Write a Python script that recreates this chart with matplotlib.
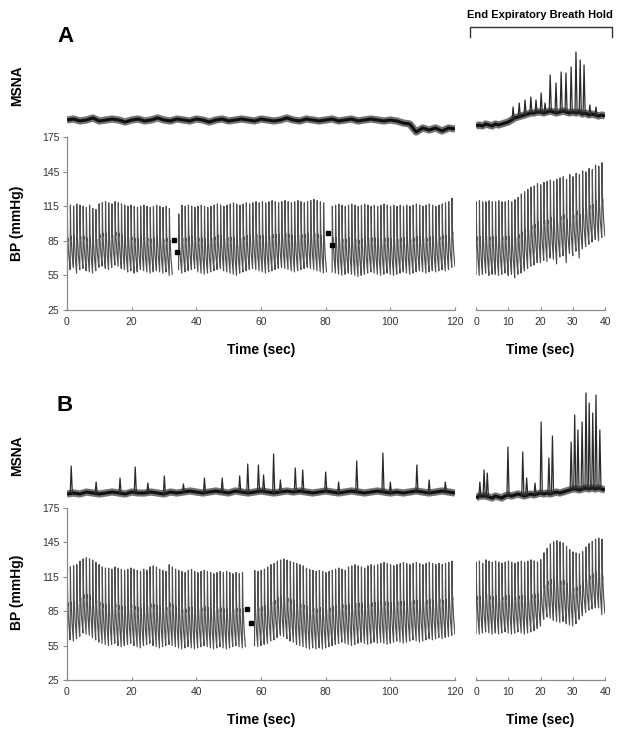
import numpy as np
import matplotlib
matplotlib.use("Agg")
import matplotlib.pyplot as plt

plt.rcParams['font.family'] = ['Liberation Sans', 'DejaVu Sans']

W, H = 629, 741

# ---------------- data ----------------
# BP segments: (start sec, end sec), per-beat systolic / diastolic (mmHg)
a_left_segs = [(0.0, 32.6), (34.5, 80.3), (82.0, 120.0)]
a_left_sys = [
    [117, 118, 117, 119, 118, 117, 116, 118, 115, 114, 119, 120, 121, 120, 119, 121, 120,
     119, 118, 117, 118, 117, 116, 117, 118, 117, 116, 117, 118, 117, 116, 117, 115],
    [110, 118, 117, 118, 117, 116, 117, 118, 117, 116, 117, 118, 119, 118, 117, 118, 119,
     120, 119, 118, 119, 120, 119, 120, 121, 120, 121, 120, 121, 122, 121, 120, 121, 122,
     121, 120, 121, 122, 121, 120, 121, 122, 123, 122, 121, 120],
    [117, 118, 119, 118, 117, 118, 119, 118, 117, 118, 119, 118, 117, 118, 117, 118, 119,
     118, 117, 118, 117, 118, 117, 118, 117, 118, 119, 118, 117, 118, 119, 118, 117, 118,
     119, 120, 121, 124],
]
a_left_dia = [
    [58, 60, 62, 57, 60, 61, 59, 58, 57, 59, 62, 63, 61, 60, 62, 64, 63, 61, 60, 58, 59,
     57, 58, 60, 59, 58, 57, 58, 59, 58, 57, 58, 55],
    [60, 57, 58, 59, 60, 61, 58, 57, 56, 57, 58, 59, 60, 61, 59, 58, 57, 56, 55, 57, 58,
     59, 60, 61, 60, 59, 58, 57, 58, 59, 60, 61, 62, 61, 60, 59, 58, 59, 60, 61, 62, 61,
     60, 59, 58, 57],
    [58, 57, 56, 55, 56, 57, 56, 55, 54, 55, 56, 57, 58, 57, 56, 55, 56, 57, 56, 55, 56,
     57, 58, 57, 56, 57, 58, 59, 58, 57, 58, 59, 58, 59, 60, 59, 60, 62],
]
a_cal = ([33.0, 34.0, 80.8, 81.9], [86, 75, 92, 81])

a_right_segs = [(0.0, 40.0)]
a_right_sys = [[121, 122, 121, 121, 122, 121, 121, 122, 121, 121, 122, 121,
                123, 125, 128, 130, 132, 134, 135, 137,
                136, 138, 139, 140, 139, 141, 142, 143, 141, 145,
                143, 146, 145, 148, 147, 150, 149, 153, 152, 155]]
a_right_dia = [[56, 55, 56, 57, 55, 56, 56, 55, 56, 57, 55, 56,
                53, 56, 57, 59, 61, 63, 64, 66,
                66, 68, 67, 70, 69, 65, 71, 72, 66, 74,
                72, 76, 70, 78, 80, 82, 84, 86, 85, 88]]

b_left_segs = [(0.0, 55.2), (58.0, 120.0)]
b_left_sys = [
    [127, 126, 127, 128, 131, 133, 134, 133, 132, 130, 128, 126, 125, 125, 124, 126, 125,
     124, 123, 124, 125, 124, 123, 122, 124, 123, 126, 127, 126, 124, 123, 122, 128, 126,
     124, 123, 122, 121, 123, 124, 122, 121, 122, 123, 122, 121, 120, 121, 122, 121, 122,
     121, 120, 121, 120, 121],
    [123, 122, 123, 124, 126, 128, 129, 131, 132, 133, 132, 131, 130, 129, 128, 127, 125,
     124, 123, 122, 123, 122, 121, 122, 123, 124, 125, 124, 123, 126, 127, 128, 127, 126,
     125, 127, 128, 127, 128, 129, 130, 129, 128, 127, 128, 129, 130, 129, 128, 129, 130,
     129, 128, 129, 130, 129, 128, 129, 128, 129, 130, 131],
]
b_left_dia = [
    [58, 60, 59, 61, 63, 66, 65, 64, 62, 60, 58, 57, 56, 55, 56, 57, 55, 54, 55, 56, 57,
     55, 54, 53, 55, 56, 57, 55, 54, 53, 54, 55, 56, 55, 54, 53, 52, 53, 54, 53, 52, 53,
     54, 55, 54, 53, 52, 53, 54, 53, 52, 53, 54, 55, 54, 53],
    [55, 54, 55, 56, 57, 59, 60, 62, 64, 63, 61, 59, 58, 56, 55, 54, 53, 52, 53, 52, 53,
     52, 53, 54, 55, 56, 57, 58, 57, 56, 55, 56, 57, 58, 57, 56, 57, 58, 57, 58, 57, 56,
     57, 58, 59, 58, 57, 58, 59, 60, 59, 58, 59, 60, 61, 60, 61, 62, 61, 62, 63, 64],
]
b_cal = ([55.7, 57.0], [87, 75])

b_right_segs = [(0.0, 40.0)]
b_right_sys = [[130, 131, 129, 132, 131, 130, 131, 130, 129, 130, 131, 130, 129, 130,
                131, 130, 131, 132, 131, 130, 132,
                138, 142, 146, 148, 149, 148, 147,
                144, 141, 139, 138, 137, 139,
                143, 146, 148, 150, 151, 150]]
b_right_dia = [[66, 65, 66, 67, 66, 65, 66, 65, 66, 67, 66, 65, 66, 67, 66, 65, 66, 67,
                68, 70, 72,
                78, 80, 79, 77, 76, 75, 76,
                74, 73, 72, 74, 78, 81,
                84, 86, 87, 88, 88, 82]]

# MSNA baselines (arbitrary units), left every 2 s, right every 1 s
a_msna_left = [20, 21, 19, 20, 22, 19, 20, 21, 20, 18, 20, 21, 19, 20, 22, 20, 19, 21, 20,
               19, 21, 20, 18, 20, 21, 19, 20, 21, 20, 19, 21, 20, 19, 20, 22, 20, 19, 21,
               20, 19, 20, 21, 19, 20, 21, 19, 20, 21, 20, 19, 20, 19, 17, 16, 8, 12, 10,
               12, 9, 12, 11]
a_msna_right = [14, 15, 14, 16, 15, 14, 16, 15, 16, 17,
                18, 20, 22, 23, 24, 25, 26, 27, 27, 28,
                28, 27, 28, 29, 28, 27, 28, 29, 28, 27,
                28, 27, 28, 26, 27, 25, 26, 25, 24, 25, 24]
a_burst_left_t, a_burst_left_v = [], []
a_burst_right_t = [11.5, 13.4, 15.2, 17.0, 18.6, 20.2, 21.4, 23.0, 24.8, 26.4, 27.9,
                   29.5, 31.0, 32.3, 33.5, 35.3, 37.2]
a_burst_right_v = [33, 37, 40, 43, 40, 47, 37, 65, 57, 68, 67, 73, 88, 80, 75, 35, 33]

b_msna_left = [16, 17, 16, 18, 17, 16, 17, 18, 17, 16, 18, 17, 17, 18, 17, 16, 18, 17, 18,
               19, 18, 17, 18, 19, 18, 17, 19, 18, 17, 18, 19, 18, 17, 18, 19, 18, 19, 18,
               17, 18, 19, 18, 17, 18, 19, 18, 17, 18, 19, 18, 17, 18, 17, 18, 19, 18, 17,
               18, 19, 18, 17]
b_msna_right = [12, 14, 14, 14, 13, 12, 14, 13, 12, 14,
                15, 14, 15, 16, 15, 14, 15, 16, 15, 16, 17,
                16, 17, 16, 17, 18, 17, 18, 19, 20, 21,
                21, 20, 21, 22, 21, 22, 21, 22, 21, 20]
b_burst_left_t = [1.3, 9.0, 16.4, 21.1, 25.0, 30.1, 36.0, 42.5, 48.0, 53.4, 55.9, 59.2,
                  60.8, 63.9, 66.0, 70.6, 72.9, 80.0, 84.0, 89.6, 97.7, 100.0, 108.2,
                  112.0, 117.0]
b_burst_left_v = [44, 28, 32, 43, 27, 34, 26, 32, 32, 34, 46, 45, 35, 56, 30, 42, 40,
                  38, 28, 49, 57, 28, 45, 30, 28]
b_burst_right_t = [1.2, 2.5, 3.5, 9.9, 14.5, 15.7, 18.3, 20.2, 22.6, 23.7, 29.5, 30.6,
                   31.6, 32.9, 34.1, 35.1, 36.2, 37.2, 38.4]
b_burst_right_v = [28, 40, 37, 63, 58, 32, 27, 88, 52, 74, 68, 95, 80, 88, 117, 107, 97,
                   115, 80]

bp_ticks = [25, 55, 85, 115, 145, 175]


# ---------------- helpers ----------------
def px_axes(fig, x0, y0, x1, y1):
    return fig.add_axes([x0 / W, 1 - y1 / H, (x1 - x0) / W, (y1 - y0) / H])


def fig_text(fig, x, y, s, **kw):
    fig.text(x / W, 1 - y / H, s, **kw)


def bp_wave(t0, t1, sys, dia, notch=0.42, n=30):
    """beat-by-beat pressure trace built from systolic / diastolic values"""
    step = (t1 - t0) / len(sys)
    p = np.linspace(0, 1, n, endpoint=False)
    tt, yy = [], []
    for k, (s, d) in enumerate(zip(sys, dia)):
        d_next = dia[k + 1] if k + 1 < len(dia) else d
        nv = d + notch * (s - d)
        y = np.where(
            p < 0.08, d + (s - d) * np.sin(np.pi / 2 * p / 0.08),
            np.where(
                p < 0.22, s - (s - nv) * ((p - 0.08) / 0.14) ** 0.8,
                np.where(
                    p < 0.32, nv + 0.08 * (s - d) * np.sin(np.pi * (p - 0.22) / 0.1),
                    nv + (d_next - nv) * ((p - 0.32) / 0.68) ** 0.8)))
        tt.append(t0 + (k + p) * step)
        yy.append(y)
    return np.concatenate(tt), np.concatenate(yy)


def draw_bp(ax, segs, sys_list, dia_list, cal=None):
    for (t0, t1), s, d in zip(segs, sys_list, dia_list):
        t, y = bp_wave(t0, t1, s, d)
        ax.plot(t, y, color='#505050', lw=0.85)
    if cal is not None:
        ax.plot(cal[0], cal[1], 's', color='black', ms=2.6)


def draw_msna(ax, base, dt, burst_t, burst_v):
    tb = np.arange(len(base)) * dt
    ax.plot(tb, base, color='#5a5a5a', lw=5.2, solid_capstyle='butt', alpha=0.85)
    ax.plot(tb, base, color='#101010', lw=2.2, solid_capstyle='butt')
    for t, v in zip(burst_t, burst_v):
        b = np.interp(t, tb, base)
        ax.plot([t - 0.3, t, t + 0.35], [b, v, b], color='#2a2a2a', lw=0.9)


def style_bp(ax, xmax, xticks, left):
    ax.set_xlim(0, xmax)
    ax.set_ylim(25, 175)
    for sp in ['top', 'right']:
        ax.spines[sp].set_visible(False)
    ax.spines['bottom'].set_color('#8a8a8a')
    ax.spines['bottom'].set_linewidth(0.9)
    ax.set_xticks(xticks)
    ax.tick_params(axis='x', direction='in', length=2, width=0.8, color='#8a8a8a',
                   labelsize=7.5, labelcolor='#333333', pad=5)
    if left:
        ax.spines['left'].set_color('#8a8a8a')
        ax.spines['left'].set_linewidth(0.9)
        ax.set_yticks(bp_ticks)
        ax.tick_params(axis='y', direction='out', length=3, width=0.8, color='#8a8a8a',
                       labelsize=7.5, labelcolor='#333333', pad=2.5)
    else:
        ax.spines['left'].set_visible(False)
        ax.set_yticks([])


def panel(fig, letter, bp_top, bp_bot, msna_top, msna_bot, labels_y,
          bp_left, bp_right, msna_left, msna_right):
    # MSNA axes
    for (x0, x1, xmax, base, dt, bt, bv) in [
            (67, 455, 120, msna_left[0], 2, msna_left[1], msna_left[2]),
            (476, 605, 40, msna_right[0], 1, msna_right[1], msna_right[2])]:
        ax = px_axes(fig, x0, msna_top, x1, msna_bot)
        draw_msna(ax, base, dt, bt, bv)
        ax.set_xlim(0, xmax)
        ax.set_ylim(0, msna_bot - msna_top)
        ax.axis('off')

    # BP axes
    ax = px_axes(fig, 67, bp_top, 455, bp_bot)
    draw_bp(ax, *bp_left)
    style_bp(ax, 120, [0, 20, 40, 60, 80, 100, 120], True)

    ax = px_axes(fig, 476, bp_top, 605, bp_bot)
    draw_bp(ax, *bp_right)
    style_bp(ax, 40, [0, 10, 20, 30, 40], False)

    let_y, msna_y, bp_y, time_y = labels_y
    fig_text(fig, 65, let_y, letter, fontsize=16, fontweight='bold',
             ha='center', va='center')
    fig_text(fig, 17, msna_y, 'MSNA', fontsize=10, fontweight='bold',
             rotation=90, ha='center', va='center')
    fig_text(fig, 17, bp_y, 'BP (mmHg)', fontsize=10, fontweight='bold',
             rotation=90, ha='center', va='center')
    fig_text(fig, 261, time_y, 'Time (sec)', fontsize=10, fontweight='bold',
             ha='center', va='center')
    fig_text(fig, 540, time_y, 'Time (sec)', fontsize=10, fontweight='bold',
             ha='center', va='center')


fig = plt.figure(figsize=(W / 100, H / 100), dpi=100)

panel(fig, 'A', 137, 310, 20, 140, (36, 86, 223, 350),
      (a_left_segs, a_left_sys, a_left_dia, a_cal),
      (a_right_segs, a_right_sys, a_right_dia),
      (a_msna_left, a_burst_left_t, a_burst_left_v),
      (a_msna_right, a_burst_right_t, a_burst_right_v))

panel(fig, 'B', 508, 680, 390, 510, (405, 456, 592, 720),
      (b_left_segs, b_left_sys, b_left_dia, b_cal),
      (b_right_segs, b_right_sys, b_right_dia),
      (b_msna_left, b_burst_left_t, b_burst_left_v),
      (b_msna_right, b_burst_right_t, b_burst_right_v))

# breath-hold bracket
br = fig.add_axes([0, 0, 1, 1])
br.set_xlim(0, W)
br.set_ylim(H, 0)
br.axis('off')
br.plot([470, 470, 612, 612], [37, 27, 27, 37], color='#333333', lw=1.0)
fig_text(fig, 540, 15, 'End Expiratory Breath Hold', fontsize=8, fontweight='bold',
         ha='center', va='center')

fig.savefig('out.png', dpi=100)
